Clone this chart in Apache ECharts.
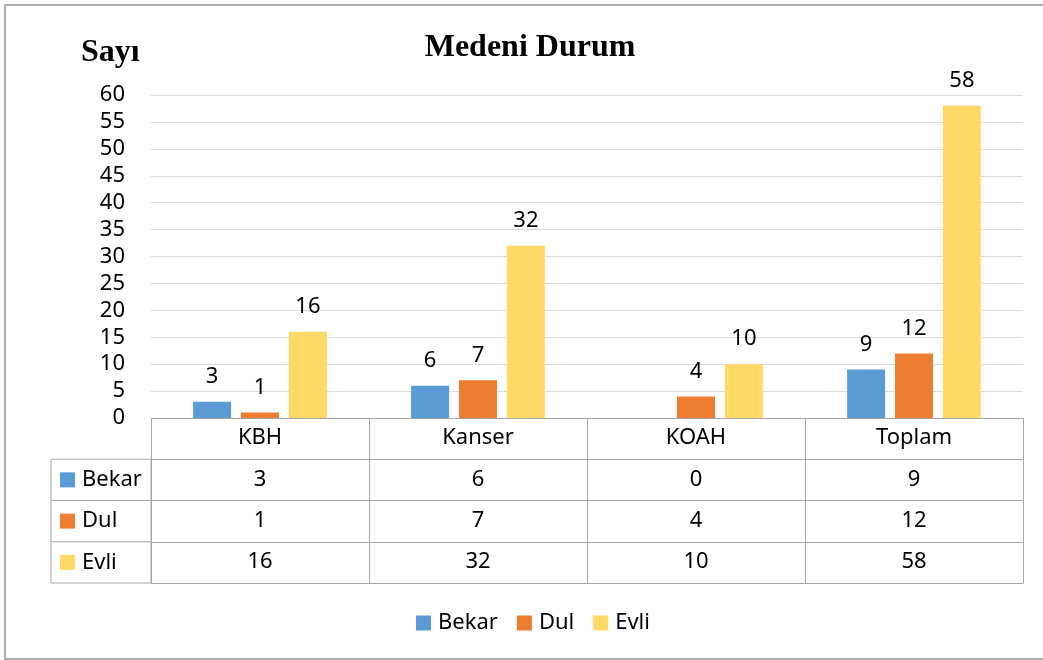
<!DOCTYPE html>
<html>
<head>
<meta charset="utf-8">
<title>Medeni Durum</title>
<script src="https://cdn.jsdelivr.net/npm/echarts@6/dist/echarts.min.js"></script>
<style>
  body { margin: 0; background: #fff; }
  #chart { width: 1043px; height: 660px; }
</style>
</head>
<body>
<div id="chart"></div>
<script>
// veriler
const categories = ["KBH", "Kanser", "KOAH", "Toplam"];
const seriesNames = ["Bekar", "Dul", "Evli"];
const bekar = [3, 6, 0, 9];
const dul = [1, 7, 4, 12];
const evli = [16, 32, 10, 58];
const yTicks = [0, 5, 10, 15, 20, 25, 30, 35, 40, 45, 50, 55, 60];

const colors = ["#5B9BD5", "#ED7D31", "#FFD966"];
const rows = [bekar, dul, evli];
const font = "'Noto Sans', sans-serif";
const fs = 22;
const lineGray = "#a6a6a6";
const rowH = 41.25;

const myChart = echarts.init(document.getElementById("chart"));

// tablo satirlari icin ek x eksenleri
const tableAxes = rows.map((vals, k) => ({
    type: "category",
    data: categories,
    position: "bottom",
    offset: rowH * (k + 1),
    axisLine: { show: true, lineStyle: { color: lineGray, width: 1 } },
    axisTick: { show: true, length: rowH, lineStyle: { color: lineGray } },
    axisLabel: {
        interval: 0, margin: 9, fontSize: fs, lineHeight: 22,
        color: "#000", fontFamily: font,
        formatter: (v, i) => String(vals[i])
    }
}));

// sol sutun (seri anahtarlari)
const leftX = 51, gridLeft = 151, tableTop = 418 + rowH;
const legendCells = [];
legendCells.push({
    type: "rect", silent: true,
    shape: { x: leftX, y: tableTop, width: gridLeft - leftX, height: rowH * 3 },
    style: { fill: null, stroke: lineGray, lineWidth: 1 }
});
seriesNames.forEach((name, k) => {
    const cy = tableTop + rowH * k + rowH / 2;
    if (k > 0) {
        legendCells.push({
            type: "line", silent: true,
            shape: { x1: leftX, y1: tableTop + rowH * k, x2: gridLeft, y2: tableTop + rowH * k },
            style: { stroke: lineGray, lineWidth: 1 }
        });
    }
    legendCells.push({
        type: "rect", silent: true,
        shape: { x: 60, y: cy - 7.5, width: 15, height: 15 },
        style: { fill: colors[k] }
    });
    legendCells.push({
        type: "text", silent: true, x: 82, y: cy,
        style: { text: name, fontSize: fs, fontFamily: font, fill: "#000", verticalAlign: "middle" }
    });
});

const option = {
    animation: false,
    backgroundColor: "#fff",
    color: colors,
    title: {
        text: "Medeni Durum",
        left: 525, top: 27, textAlign: "center",
        textStyle: { fontFamily: "'Liberation Serif', serif", fontWeight: "bold", fontSize: 32, color: "#000" }
    },
    legend: {
        data: seriesNames,
        left: 411, top: 607,
        icon: "rect", itemWidth: 15, itemHeight: 15, itemGap: 19,
        textStyle: { fontSize: fs, fontFamily: font, color: "#000", padding: [0, 0, 0, 2] }
    },
    grid: { left: gridLeft, right: 20, top: 95, bottom: 242, containLabel: false },
    xAxis: [
        {
            type: "category",
            data: categories,
            position: "bottom",
            axisLine: { show: true, lineStyle: { color: lineGray, width: 1 } },
            axisTick: { show: true, length: rowH, lineStyle: { color: lineGray } },
            axisLabel: { interval: 0, margin: 9, fontSize: fs, lineHeight: 22, color: "#000", fontFamily: font }
        },
        ...tableAxes,
        {
            type: "category",
            data: categories,
            position: "bottom",
            offset: rowH * 4,
            axisLine: { show: true, lineStyle: { color: lineGray, width: 1 } },
            axisTick: { show: false },
            axisLabel: { show: false }
        }
    ],
    yAxis: {
        type: "value",
        min: yTicks[0], max: yTicks[yTicks.length - 1], interval: 5,
        axisLine: { show: false },
        axisTick: { show: false },
        axisLabel: { margin: 26, fontSize: fs, color: "#000", fontFamily: font },
        splitLine: { lineStyle: { color: "#d9d9d9", width: 1 } }
    },
    graphic: [
        {
            type: "rect", silent: true, z: -1,
            shape: { x: 5, y: 5, width: 1100, height: 654 },
            style: { fill: null, stroke: "#ababab", lineWidth: 2 }
        },
        {
            type: "text", silent: true, x: 81, y: 53,
            style: {
                text: "Sayı", fontSize: 32, fontWeight: "bold",
                fontFamily: "'Liberation Serif', serif", fill: "#000", verticalAlign: "middle"
            }
        },
        ...legendCells
    ],
    series: seriesNames.map((name, k) => ({
        name: name,
        type: "bar",
        data: rows[k],
        barWidth: 38,
        barGap: "26%",
        label: {
            show: true, position: "top", distance: 14,
            fontSize: fs, color: "#000", fontFamily: font,
            formatter: p => (p.value === 0 ? "" : p.value)
        }
    }))
};

myChart.setOption(option);
</script>
</body>
</html>
